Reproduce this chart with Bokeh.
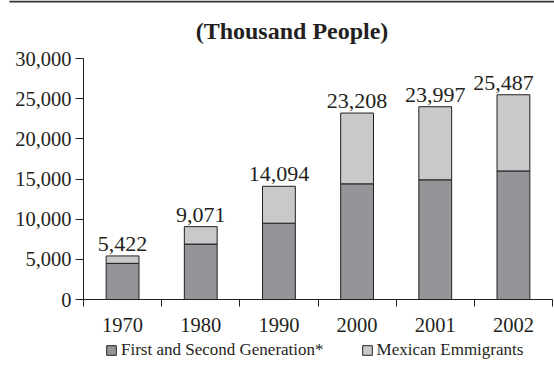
from bokeh.plotting import figure
from bokeh.models import (ColumnDataSource, Range1d, FixedTicker, NumeralTickFormatter,
                          Legend, LegendItem, BoxAnnotation, Label)
from bokeh.core.properties import value
from bokeh.embed import file_html
from bokeh.resources import INLINE

# ---- data ----
years = ["1970", "1980", "1990", "2000", "2001", "2002"]
first_second_gen = [4500, 6900, 9500, 14400, 14900, 16000]
totals = [5422, 9071, 14094, 23208, 23997, 25487]
mexican_emigrants = [t - f for t, f in zip(totals, first_second_gen)]
total_labels = ["5,422", "9,071", "14,094", "23,208", "23,997", "25,487"]
y_ticks = [0, 5000, 10000, 15000, 20000, 25000, 30000]
Y_MAX = 30000

SERIF = "Liberation Serif"
SERIF_CSS = "'Liberation Serif', serif"
INK = "#231f20"
DARK = "#939598"
LIGHT = "#c8c9cb"

# ---- layout (pixels of the 554x365 canvas) ----
W, H = 554, 365
AX_L, AX_R = 83, 552      # x extent of the plotting area
AX_T, AX_B = 58, 299      # y extent of the plotting area
n = len(years)
px_x = (AX_R - AX_L) / n
px_y = (AX_B - AX_T) / Y_MAX
x_range = Range1d(-AX_L / px_x, n + (W - AX_R) / px_x)
y_range = Range1d(-(H - AX_B) / px_y, Y_MAX + AX_T / px_y)

xc = [i + 0.5 for i in range(n)]
src = ColumnDataSource(dict(
    x=xc, gen=first_second_gen, mex=mexican_emigrants, total=totals,
    lab=total_labels, dx=[0, 0, 0, 0, 0, -10],
    gen_top=[g + m for g, m in zip(first_second_gen, mexican_emigrants)],
))

p = figure(width=W, height=H, output_backend="svg", toolbar_location=None,
           x_range=x_range, y_range=y_range, min_border=0)
p.outline_line_color = None
p.grid.grid_line_color = None
p.background_fill_color = "white"
p.border_fill_color = "white"

r1 = p.vbar(x="x", bottom=0, top="gen", width=0.42, source=src,
            fill_color=DARK, line_color=INK, line_width=1)
r2 = p.vbar(x="x", bottom="gen", top="gen_top", width=0.42, source=src,
            fill_color=LIGHT, line_color=INK, line_width=1)

p.text(x="x", y="total", text="lab", source=src, x_offset="dx", y_offset=-5,
       text_align="center", text_baseline="bottom",
       text_font=value(SERIF), text_font_size="22px", text_color=INK)

# x axis, drawn along y = 0
xa = p.xaxis[0]
xa.fixed_location = 0
xa.bounds = (0, n)
xa.ticker = FixedTicker(ticks=xc, minor_ticks=list(range(n + 1)))
xa.major_label_overrides = {x: y for x, y in zip(xc, years)}
xa.major_tick_out = 0
xa.major_tick_in = 0
xa.minor_tick_out = 7
xa.minor_tick_in = 0
xa.axis_line_color = INK
xa.minor_tick_line_color = INK
xa.major_label_text_font = SERIF
xa.major_label_text_font_size = "20.5px"
xa.major_label_text_color = INK
xa.major_label_standoff = 11

# y axis, drawn along x = 0
ya = p.yaxis[0]
ya.fixed_location = 0
ya.bounds = (0, Y_MAX)
ya.ticker = FixedTicker(ticks=y_ticks)
ya.formatter = NumeralTickFormatter(format="0,0")
ya.major_tick_out = 8
ya.major_tick_in = 0
ya.minor_tick_out = 0
ya.minor_tick_in = 0
ya.axis_line_color = INK
ya.major_tick_line_color = INK
ya.major_label_text_font = SERIF
ya.major_label_text_font_size = "20.5px"
ya.major_label_text_color = INK
ya.major_label_standoff = 4

# title
p.add_layout(Label(x=291.5, y=H - 30, x_units="screen", y_units="screen",
                   text="(Thousand People)", text_align="center",
                   text_baseline="alphabetic", text_font=SERIF,
                   text_font_size="24px", text_font_style="bold", text_color=INK))

# legend under the x axis labels
legend = Legend(items=[LegendItem(label="First and Second Generation*", renderers=[r1]),
                       LegendItem(label="Mexican Emmigrants", renderers=[r2])],
                orientation="horizontal", location=(105, 5),
                glyph_width=12, glyph_height=12, label_standoff=4, spacing=37,
                padding=0, margin=0, border_line_color=None, background_fill_alpha=0,
                label_text_font=SERIF_CSS, label_text_font_size="17px", label_text_color=INK,
                label_height=12)
p.add_layout(legend)

# dark rule across the top of the page
p.add_layout(BoxAnnotation(left=9, right=W, bottom=H - 2, top=H,
                           left_units="screen", right_units="screen",
                           top_units="screen", bottom_units="screen",
                           fill_color="#333333", fill_alpha=1, line_color=None))

open("out.html", "w").write(file_html(p, INLINE))
